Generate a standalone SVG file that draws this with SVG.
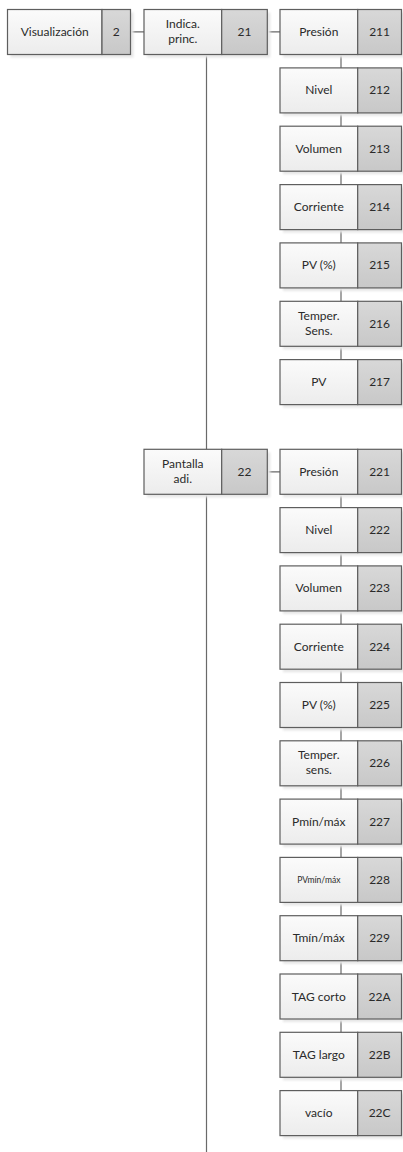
<svg xmlns="http://www.w3.org/2000/svg" width="403" height="1152" viewBox="0 0 403 1152">
<style>
.l{fill:url(#gl);stroke:#5e5e5e;stroke-width:1.2}
.r{fill:url(#gr);stroke:#5e5e5e;stroke-width:1.2}
.sh{fill:#e6e6e6;filter:url(#blur)}
.c{stroke:#6a6a6a;stroke-width:1.2;fill:none}
text{font-family:Lato,"Liberation Sans",sans-serif;font-size:12px;fill:#2a2a2a;text-anchor:middle}
.s{font-size:8.5px}
</style>
<defs>
<linearGradient id="gl" x1="0" y1="0" x2="0" y2="1"><stop offset="0" stop-color="#fbfbfb"/><stop offset="1" stop-color="#ececec"/></linearGradient>
<linearGradient id="gr" x1="0" y1="0" x2="0" y2="1"><stop offset="0" stop-color="#d8d8d8"/><stop offset="1" stop-color="#c8c8c8"/></linearGradient>
<filter id="blur" x="-10%" y="-20%" width="120%" height="140%"><feGaussianBlur stdDeviation="1"/></filter>
</defs>
<g id="connectors">
<path class="c" d="M130.5 31.8H144M267.3 31.8H280M206.5 54.5V449.5M206.5 494.5V1152M267.3 471.8H280"/>
<path class="c" d="M341 54.5V68M341 112.9V126.4M341 171.2V184.7M341 229.6V243M341 287.9V301.4M341 346.3V359.7"/>
<path class="c" d="M341 494.5V507.8M341 552.8V566.1M341 611.1V624.4M341 669.4V682.7M341 727.7V741M341 786V799.3M341 844.3V857.6M341 902.6V915.9M341 960.9V974.2M341 1019.2V1032.5M341 1077.5V1090.8"/>
</g>
<g id="n2"><rect class="sh" x="10.5" y="12.5" width="123" height="45"/><rect class="l" x="7.5" y="9.5" width="94.5" height="45"/><rect class="r" x="102" y="9.5" width="28.5" height="45"/><text x="54.7" y="36">Visualización</text><text x="116.2" y="36">2</text></g>
<g id="n21"><rect class="sh" x="147" y="12.5" width="123.3" height="45"/><rect class="l" x="144" y="9.5" width="77.7" height="45"/><rect class="r" x="221.7" y="9.5" width="45.6" height="45"/><text x="182.8" y="28">Indica.</text><text x="182.8" y="43">princ.</text><text x="244.5" y="36">21</text></g>
<g id="n211"><rect class="sh" x="283" y="12.5" width="121.5" height="45"/><rect class="l" x="280" y="9.5" width="77.7" height="45"/><rect class="r" x="357.7" y="9.5" width="43.8" height="45"/><text x="318.8" y="36">Presión</text><text x="379.6" y="36">211</text></g>
<g id="n212"><rect class="sh" x="283" y="70.9" width="121.5" height="45"/><rect class="l" x="280" y="67.9" width="77.7" height="45"/><rect class="r" x="357.7" y="67.9" width="43.8" height="45"/><text x="318.8" y="94.4">Nivel</text><text x="379.6" y="94.4">212</text></g>
<g id="n213"><rect class="sh" x="283" y="129.2" width="121.5" height="45"/><rect class="l" x="280" y="126.2" width="77.7" height="45"/><rect class="r" x="357.7" y="126.2" width="43.8" height="45"/><text x="318.8" y="152.7">Volumen</text><text x="379.6" y="152.7">213</text></g>
<g id="n214"><rect class="sh" x="283" y="187.6" width="121.5" height="45"/><rect class="l" x="280" y="184.6" width="77.7" height="45"/><rect class="r" x="357.7" y="184.6" width="43.8" height="45"/><text x="318.8" y="211.1">Corriente</text><text x="379.6" y="211.1">214</text></g>
<g id="n215"><rect class="sh" x="283" y="245.9" width="121.5" height="45"/><rect class="l" x="280" y="242.9" width="77.7" height="45"/><rect class="r" x="357.7" y="242.9" width="43.8" height="45"/><text x="318.8" y="269.4">PV (%)</text><text x="379.6" y="269.4">215</text></g>
<g id="n216"><rect class="sh" x="283" y="304.3" width="121.5" height="45"/><rect class="l" x="280" y="301.3" width="77.7" height="45"/><rect class="r" x="357.7" y="301.3" width="43.8" height="45"/><text x="318.8" y="319.8">Temper.</text><text x="318.8" y="334.8">Sens.</text><text x="379.6" y="327.8">216</text></g>
<g id="n217"><rect class="sh" x="283" y="362.6" width="121.5" height="45"/><rect class="l" x="280" y="359.6" width="77.7" height="45"/><rect class="r" x="357.7" y="359.6" width="43.8" height="45"/><text x="318.8" y="386.1">PV</text><text x="379.6" y="386.1">217</text></g>
<g id="n22"><rect class="sh" x="147" y="452.3" width="123.3" height="45"/><rect class="l" x="144" y="449.3" width="77.7" height="45"/><rect class="r" x="221.7" y="449.3" width="45.6" height="45"/><text x="182.8" y="467.8">Pantalla</text><text x="182.8" y="482.8">adi.</text><text x="244.5" y="475.8">22</text></g>
<g id="n221"><rect class="sh" x="283" y="452.3" width="121.5" height="45"/><rect class="l" x="280" y="449.3" width="77.7" height="45"/><rect class="r" x="357.7" y="449.3" width="43.8" height="45"/><text x="318.8" y="475.8">Presión</text><text x="379.6" y="475.8">221</text></g>
<g id="n222"><rect class="sh" x="283" y="510.6" width="121.5" height="45"/><rect class="l" x="280" y="507.6" width="77.7" height="45"/><rect class="r" x="357.7" y="507.6" width="43.8" height="45"/><text x="318.8" y="534.1">Nivel</text><text x="379.6" y="534.1">222</text></g>
<g id="n223"><rect class="sh" x="283" y="568.9" width="121.5" height="45"/><rect class="l" x="280" y="565.9" width="77.7" height="45"/><rect class="r" x="357.7" y="565.9" width="43.8" height="45"/><text x="318.8" y="592.4">Volumen</text><text x="379.6" y="592.4">223</text></g>
<g id="n224"><rect class="sh" x="283" y="627.2" width="121.5" height="45"/><rect class="l" x="280" y="624.2" width="77.7" height="45"/><rect class="r" x="357.7" y="624.2" width="43.8" height="45"/><text x="318.8" y="650.7">Corriente</text><text x="379.6" y="650.7">224</text></g>
<g id="n225"><rect class="sh" x="283" y="685.5" width="121.5" height="45"/><rect class="l" x="280" y="682.5" width="77.7" height="45"/><rect class="r" x="357.7" y="682.5" width="43.8" height="45"/><text x="318.8" y="709">PV (%)</text><text x="379.6" y="709">225</text></g>
<g id="n226"><rect class="sh" x="283" y="743.8" width="121.5" height="45"/><rect class="l" x="280" y="740.8" width="77.7" height="45"/><rect class="r" x="357.7" y="740.8" width="43.8" height="45"/><text x="318.8" y="759.3">Temper.</text><text x="318.8" y="774.3">sens.</text><text x="379.6" y="767.3">226</text></g>
<g id="n227"><rect class="sh" x="283" y="802.1" width="121.5" height="45"/><rect class="l" x="280" y="799.1" width="77.7" height="45"/><rect class="r" x="357.7" y="799.1" width="43.8" height="45"/><text x="318.8" y="825.6">Pmín/máx</text><text x="379.6" y="825.6">227</text></g>
<g id="n228"><rect class="sh" x="283" y="860.4" width="121.5" height="45"/><rect class="l" x="280" y="857.4" width="77.7" height="45"/><rect class="r" x="357.7" y="857.4" width="43.8" height="45"/><text class="s" x="318.8" y="883">PVmín/máx</text><text x="379.6" y="883.9">228</text></g>
<g id="n229"><rect class="sh" x="283" y="918.7" width="121.5" height="45"/><rect class="l" x="280" y="915.7" width="77.7" height="45"/><rect class="r" x="357.7" y="915.7" width="43.8" height="45"/><text x="318.8" y="942.2">Tmín/máx</text><text x="379.6" y="942.2">229</text></g>
<g id="n22A"><rect class="sh" x="283" y="977" width="121.5" height="45"/><rect class="l" x="280" y="974" width="77.7" height="45"/><rect class="r" x="357.7" y="974" width="43.8" height="45"/><text x="318.8" y="1000.5">TAG corto</text><text x="379.6" y="1000.5">22A</text></g>
<g id="n22B"><rect class="sh" x="283" y="1035.3" width="121.5" height="45"/><rect class="l" x="280" y="1032.3" width="77.7" height="45"/><rect class="r" x="357.7" y="1032.3" width="43.8" height="45"/><text x="318.8" y="1058.8">TAG largo</text><text x="379.6" y="1058.8">22B</text></g>
<g id="n22C"><rect class="sh" x="283" y="1093.6" width="121.5" height="45"/><rect class="l" x="280" y="1090.6" width="77.7" height="45"/><rect class="r" x="357.7" y="1090.6" width="43.8" height="45"/><text x="318.8" y="1117.1">vacío</text><text x="379.6" y="1117.1">22C</text></g>
</svg>
